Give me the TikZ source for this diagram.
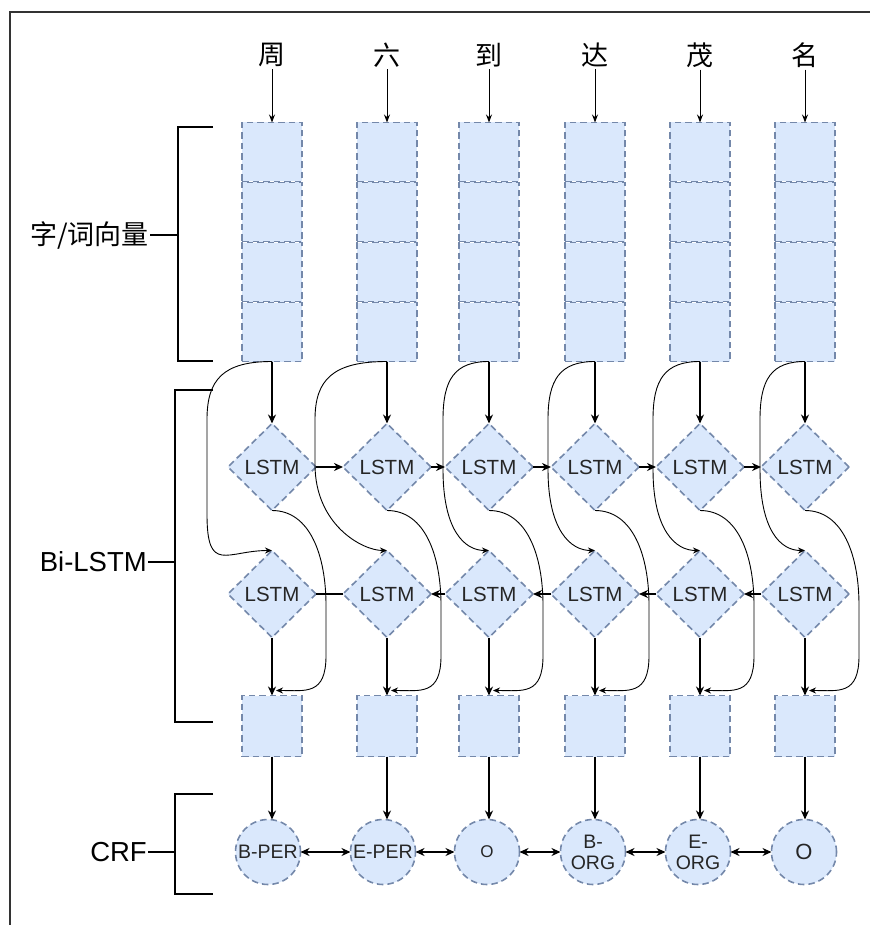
\documentclass[tikz,border=0pt]{standalone}
\usepackage{fontspec}
\setmainfont{Liberation Sans}
\newfontfamily\cjk{Noto Sans CJK SC}
\usetikzlibrary{shapes.geometric,arrows.meta,calc}
\definecolor{bfill}{HTML}{DAE8FC}
\definecolor{bstroke}{HTML}{7488AA}
\begin{document}
\begin{tikzpicture}[x=1pt,y=-1pt,
  dsh/.style={draw=bstroke, fill=bfill, line width=1.6pt, dash pattern=on 6.5pt off 4pt},
  cell/.style={dsh, minimum width=60pt, minimum height=59pt, inner sep=0pt, outer sep=0pt},
  outbox/.style={cell, minimum height=61pt},
  lstm/.style={diamond, aspect=1, dsh, minimum width=88pt, minimum height=87pt,
    inner sep=0pt, outer sep=0pt, font=\fontsize{20.5}{22}\selectfont, text=black!85},
  tag/.style={circle, dsh, minimum size=65pt, inner sep=0pt, outer sep=0pt, align=center,
    font=\fontsize{19.5}{21}\selectfont, text=black!85},
  word/.style={font=\cjk\fontsize{27}{30}\selectfont, inner sep=2pt},
  side/.style={font=\fontsize{27.5}{30}\selectfont, inner sep=1pt, anchor=east},
  arr/.style={-{Stealth[length=9pt,width=8pt]}, line width=1.6pt},
  thinarr/.style={-{Stealth[length=8pt,width=6pt]}, line width=1pt},
  both/.style={{Stealth[length=9pt,width=8pt]}-{Stealth[length=9pt,width=8pt]}, line width=1.6pt},
  curvy/.style={-{Stealth[length=7pt,width=6pt]}, line width=0.9pt},
  bracket/.style={line width=2pt}]
\useasboundingbox (0,0) rectangle (869,925);
% frame
\draw[line width=2pt, black!80] (10,930) -- (10,12.5) -- (875,12.5);

% columns
\foreach \i/\x/\ch in {1/272/周,2/387/六,3/489/到,4/595/达,5/700/茂,6/805/名}{
  \node[word] (ch\i) at (\x,55) {\ch};
  \foreach \k/\y in {1/152,2/212,3/272,4/332}{
    \node[cell] (v\i-\k) at (\x,\y) {};
  }
  \node[lstm] (ud\i) at (\x,467) {LSTM};
  \node[lstm] (ld\i) at (\x,594) {LSTM};
  \node[outbox] (o\i) at (\x,726) {};
}
% CRF tags
\node[tag] (c1) at (268,852) {B-PER};
\node[tag] (c2) at (383,852) {E-PER};
\node[tag, font=\fontsize{17}{18}\selectfont] (c3) at (487,852) {O};
\node[tag] (c4) at (593,852) {B-\\ORG};
\node[tag] (c5) at (698,852) {E-\\ORG};
\node[tag, font=\fontsize{22}{23}\selectfont] (c6) at (804,852) {O};

% vertical arrows
\foreach \i in {1,...,6}{
  \draw[thinarr] (ch\i.south) -- (v\i-1.north);
  \draw[arr] (v\i-4.south) -- (ud\i.north);
  \draw[arr] (ld\i.south) -- (o\i.north);
  \draw[arr] (o\i.south) -- (o\i.south |- c\i.north);
}
% horizontal LSTM links
\foreach \i/\j in {1/2,2/3,3/4,4/5,5/6}{
  \draw[arr] (ud\i.east) -- (ud\j.west);
}
\draw[line width=1.6pt] (ld2.west) -- (ld1.east);
\foreach \i/\j in {2/3,3/4,4/5,5/6}{
  \draw[arr] (ld\j.west) -- (ld\i.east);
}
% CRF links
\foreach \i/\j in {1/2,2/3,3/4,4/5,5/6}{
  \draw[both] (c\i.east) -- (c\j.west);
}

% curved links: embedding -> backward LSTM (left side)
\foreach \i/\a/\yy/\h in {1/65/515/45,2/72/465/25,3/46/470/25,4/47/470/25,5/47/470/25,6/45/470/25}{
  \draw[curvy] (v\i-4.south) .. controls +(-0.75*\a,0) and +(0,-40) .. ++(-\a,58)
     -- ($(v\i-4.south)+(-\a,\yy-362)$)
     .. controls +(0,60) and +(-\h,0) .. (ld\i.north);
}
% curved links: forward LSTM -> output (right side)
\foreach \i in {1,...,6}{
  \draw[curvy] (ud\i.south) .. controls +(38,0) and +(0,-50) .. ++(54,95)
     -- ++(0,50)
     .. controls +(0,40) and +(30,0) .. ($(o\i.north)+(4,-5)$);
}

% brackets and labels
\draw[bracket] (213,127) -- (178,127) -- (178,361) -- (213,361);
\draw[bracket] (213,390) -- (175,390) -- (175,722) -- (213,722);
\draw[bracket] (213,794) -- (175,794) -- (175,894) -- (213,894);
\coordinate (bk1) at (178,235);
\coordinate (bk2) at (175,562);
\coordinate (bk3) at (175,852);
\node[side, font=\cjk\fontsize{27}{30}\selectfont] (lab1) at (150,235) {字/词向量};
\node[side] (lab2) at (148,562) {Bi-LSTM};
\node[side] (lab3) at (148,852) {CRF};
\draw[line width=2pt] (lab1.east) -- (bk1);
\draw[line width=2pt] (lab2.east) -- (bk2);
\draw[line width=2pt] (lab3.east) -- (bk3);
\end{tikzpicture}
\end{document}
